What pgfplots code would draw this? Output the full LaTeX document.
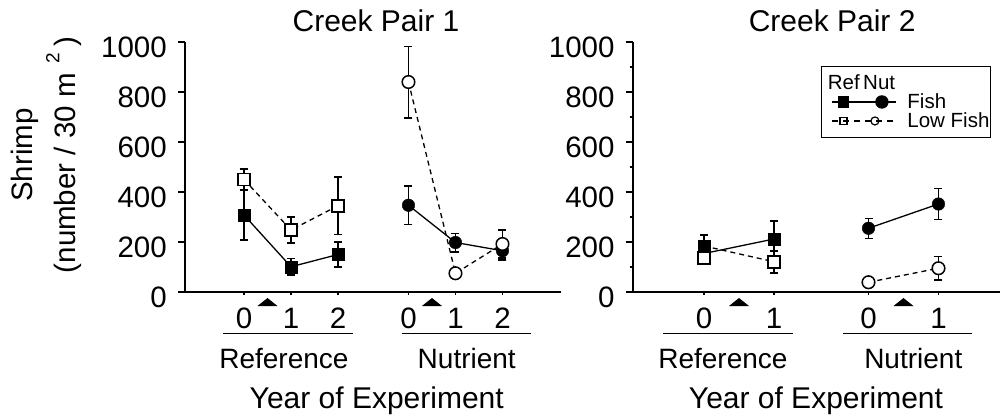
\documentclass[border=0pt]{standalone}
\usepackage{fontspec}
\setmainfont{Liberation Sans}
\usepackage{pgfplots}
\pgfplotsset{compat=1.18}
\pgfdeclareplotmark{flattri}{%
  \pgfpathmoveto{\pgfqpoint{-10pt}{-4pt}}%
  \pgfpathlineto{\pgfqpoint{10pt}{-4pt}}%
  \pgfpathlineto{\pgfqpoint{0pt}{4pt}}%
  \pgfpathclose\pgfusepathqfill}
\pgfplotsset{
  creek/.style={
    scale only axis, height=250pt, ymin=0, ymax=1000,
    axis x line=bottom, axis y line=left,
    axis line style={line width=2pt, -},
    clip=false,
    tick align=outside, major tick length=7pt, minor tick length=3pt,
    every tick/.style={black, line width=1.5pt},
    xtick style={/pgfplots/major tick length=3pt},
    ytick={0,200,...,1000},
    /pgf/number format/1000 sep={},
    /pgf/number format/assume math mode=true,
    ticklabel style={font=\fontsize{29.5}{30}\selectfont},
    yticklabel style={inner sep=0pt, xshift=-11pt, yshift=-5pt},
    xticklabel style={inner sep=0pt, anchor=north, yshift=-9pt},
    title style={font=\fontsize{30}{32}\selectfont, anchor=center},
  },
  errb/.style={error bars/.cd, y dir=both, y explicit,
    error bar style={line width=1.5pt, black, solid},
    error mark options={rotate=90, mark size=4pt, line width=1.5pt, black, solid}},
  fsq/.style={forget plot, only marks, mark=square*, mark size=6pt, mark options={fill=black, draw=black, solid}, errb},
  osq/.style={forget plot, only marks, mark=square*, mark size=6pt, mark options={fill=white, draw=black, line width=1.5pt, solid}, errb},
  fci/.style={forget plot, only marks, mark=*, mark size=6.3pt, mark options={fill=black, draw=black, solid}, errb},
  oci/.style={forget plot, only marks, mark=*, mark size=6.3pt, mark options={fill=white, draw=black, line width=1.5pt, solid}, errb},
  sline/.style={forget plot, no marks, black, line width=1.3pt},
  dline/.style={forget plot, no marks, black, line width=1.3pt, dash pattern=on 5pt off 4pt},
  tri/.style={forget plot, only marks, mark=flattri, black},
}
\begin{document}
\begin{tikzpicture}
% ---------------- Creek Pair 1 ----------------
\begin{axis}[creek, at={(185pt,124pt)}, anchor=south west, width=376pt,
  xmin=-1.255, xmax=6.745,
  xtick={0,1,2,3.5,4.5,5.5}, xticklabels={0,1,2,0,1,2},
  title={Creek Pair 1}, title style={at={(axis description cs:0.508,1.06)}}]
  \addplot[sline] coordinates {(0,308) (1,101) (2,150)};
  \addplot[dline] coordinates {(0,450) (1,248) (2,345)};
  \addplot[sline] coordinates {(3.5,347) (4.5,198) (5.5,165)};
  \addplot[dline] coordinates {(3.5,840) (4.5,75) (5.5,192)};
  \addplot[fsq] coordinates {(0,308) +- (0,100) (1,101) +- (0,33) (2,150) +- (0,50)};
  \addplot[osq] coordinates {(0,450) +- (0,42) (1,248) +- (0,52) (2,345) +- (0,115)};
  \addplot[fci] coordinates {(3.5,347) +- (0,77) (4.5,198) +- (0,37) (5.5,165) +- (0,37)};
  \addplot[oci] coordinates {(3.5,840) +- (0,143) (4.5,75) +- (0,0) (5.5,192) +- (0,56)};
  \addplot[tri] coordinates {(0.5,-40) (4,-40)};
  \draw[line width=1pt] (axis cs:-0.45,-164) -- (axis cs:2.32,-164);
  \draw[line width=1pt] (axis cs:3.355,-164) -- (axis cs:6.1,-164);
  \node[font=\fontsize{28}{30}\selectfont] at (axis cs:0.85,-264) {Reference};
  \node[font=\fontsize{28}{30}\selectfont] at (axis cs:4.74,-264) {Nutrient};
  \node[font=\fontsize{30}{32}\selectfont] at (axis description cs:0.51,-0.435) {Year of Experiment};
  \node[rotate=90, font=\fontsize{29.5}{30}\selectfont] at (axis description cs:-0.4255,0.548) {Shrimp};
  \node[rotate=90, font=\fontsize{29.5}{30}\selectfont] at (axis description cs:-0.3218,0.548) {(number / 30 m\hspace{10pt}\raisebox{0.55em}{\fontsize{19}{20}\selectfont 2}\hspace{6pt})};
\end{axis}
% ---------------- Creek Pair 2 ----------------
\begin{axis}[creek, at={(632.7pt,124pt)}, anchor=south west, width=367.3pt,
  xmin=-1.019, xmax=4.229,
  xtick={0,1,2.35,3.35}, xticklabels={0,1,0,1},
  minor y tick num=1,
  title={Creek Pair 2}, title style={at={(axis description cs:0.543,1.06)}},
  legend style={at={(axis description cs:0.5119,0.905)}, anchor=north west,
    draw=black, line width=1.4pt, fill=white,
    font=\fontsize{20.5}{22}\selectfont,
    inner xsep=1pt, inner ysep=7pt, row sep=0pt,
    nodes={inner xsep=0pt, inner ysep=0pt, minimum height=19pt},
    /tikz/every odd column/.style={column sep=0pt},
    /tikz/every even column/.style={column sep=0pt}},
  legend cell align=left]
  \addplot[sline] coordinates {(0,154) (1,212)};
  \addplot[dline] coordinates {(0,184) (1,121)};
  \addplot[sline] coordinates {(2.35,255) (3.35,352)};
  \addplot[dline] coordinates {(2.35,39) (3.35,95)};
  \addplot[fsq] coordinates {(0,184) +- (0,44) (1,212) +- (0,72)};
  \addplot[osq] coordinates {(0,137) +- (0,17) (1,121) +- (0,44)};
  \addplot[fci] coordinates {(2.35,255) +- (0,40) (3.35,352) +- (0,62)};
  \addplot[oci] coordinates {(2.35,39) +- (0,0) (3.35,95) +- (0,47)};
  \addplot[tri] coordinates {(0.5,-40) (2.85,-40)};
  \draw[line width=1pt] (axis cs:-0.586,-164) -- (axis cs:1.271,-164);
  \draw[line width=1pt] (axis cs:1.986,-164) -- (axis cs:3.829,-164);
  \node[font=\fontsize{28}{30}\selectfont] at (axis cs:0.27,-264) {Reference};
  \node[font=\fontsize{28}{30}\selectfont] at (axis cs:2.99,-264) {Nutrient};
  \node[font=\fontsize{30}{32}\selectfont] at (axis description cs:0.499,-0.435) {Year of Experiment};
  \addlegendimage{empty legend}
  \addlegendentry{\makebox[0pt][l]{\hspace*{-80pt}Ref\,Nut}}
  \addlegendimage{legend image code/.code={
      \path[draw=none, fill=none] (-10pt,0pt) -- (75pt,0pt);
      \draw[black, solid, line width=2.8pt] (0pt,0pt) -- (64pt,0pt);
      \fill[black] (6pt,-5pt) rectangle (16pt,5pt);
      \fill[black] (49.5pt,0pt) circle (6pt);}}
  \addlegendentry{Fish}
  \addlegendimage{legend image code/.code={
      \path[draw=none, fill=none] (-10pt,0pt) -- (75pt,0pt);
      \draw[black, line width=1.3pt, dash pattern=on 6pt off 5pt] (0pt,0pt) -- (64pt,0pt);
      \draw[black, solid, line width=1.2pt] (7.5pt,-3.5pt) rectangle (14.5pt,3.5pt);
      \draw[black, solid, line width=1.2pt] (42.5pt,0pt) circle (4pt);}}
  \addlegendentry{Low Fish}
\end{axis}
\pgfresetboundingbox
\path (0pt,0pt) rectangle (1000pt,416pt);
\end{tikzpicture}
\end{document}
